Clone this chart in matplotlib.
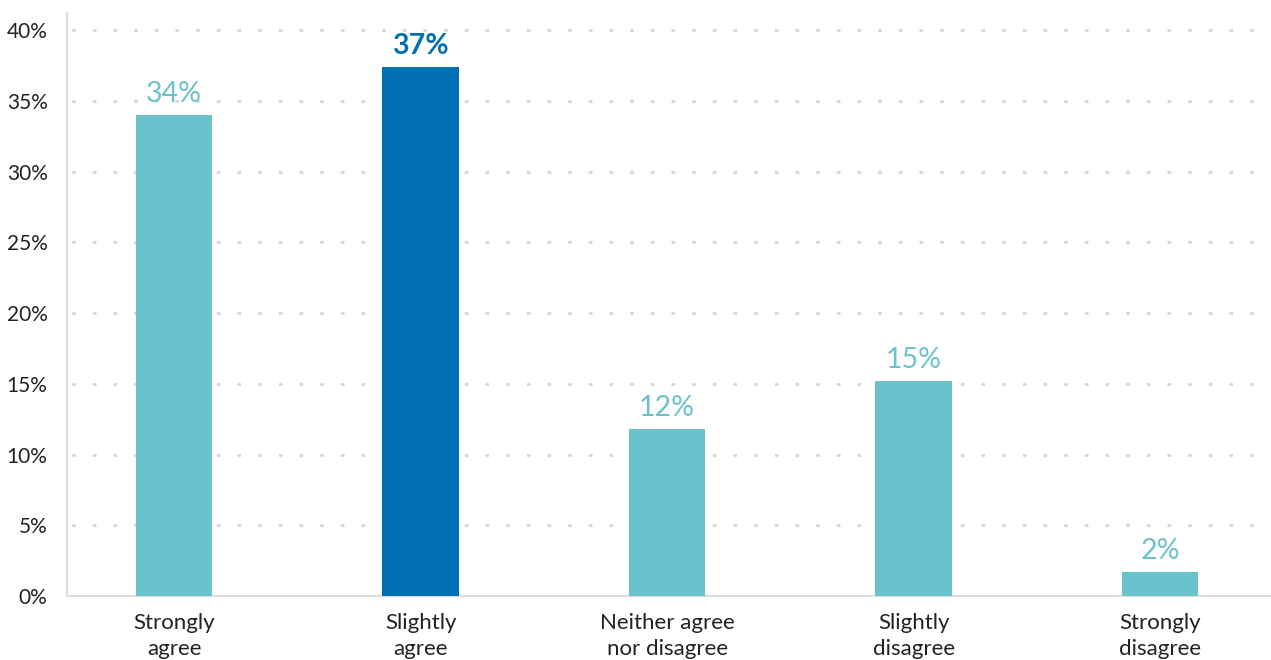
import matplotlib.pyplot as plt

# data
categories = ["Strongly\nagree", "Slightly\nagree", "Neither agree\nnor disagree",
              "Slightly\ndisagree", "Strongly\ndisagree"]
values = [34.0, 37.4, 11.8, 15.2, 1.7]
labels = ["34%", "37%", "12%", "15%", "2%"]
highlight = 1

light = "#6AC3CC"
dark = "#0070B2"

plt.rcParams['font.family'] = ['Lato', 'DejaVu Sans']

fig = plt.figure(figsize=(12.71, 6.6), dpi=100)
ax = fig.add_axes([0.0527, 0.097, 0.9473, 0.883])

x = list(range(len(categories)))
colors = [dark if i == highlight else light for i in x]
ax.bar(x, values, width=0.31, color=colors, zorder=3)

for i in x:
    bold = i == highlight
    ax.annotate(labels[i], (i, values[i]), xytext=(0, 6), textcoords="offset points",
                ha="center", va="bottom", fontsize=20.5,
                fontweight="bold" if bold else "normal",
                color=dark if bold else light)

ax.set_xlim(-0.435, 4.45)
ax.set_ylim(0, 41.2)
ax.set_yticks(range(0, 41, 5))
ax.set_yticklabels([f"{v}%" for v in range(0, 41, 5)], fontsize=15, color="#222222")
ax.set_xticks(x)
ax.set_xticklabels(categories, fontsize=16, color="#222222", linespacing=1.4)
ax.tick_params(axis="both", length=0)
ax.tick_params(axis="x", pad=12)
ax.tick_params(axis="y", pad=14)

for y in range(5, 41, 5):
    ax.axhline(y, xmin=0.005, color="#D9D9D9", linewidth=2.4,
               dashes=(0.3, 5.9), dash_capstyle="round", zorder=1)

for s in ["top", "right"]:
    ax.spines[s].set_visible(False)
for s in ["left", "bottom"]:
    ax.spines[s].set_color("#DDDDDD")
    ax.spines[s].set_linewidth(1.5)

fig.savefig("out.png", dpi=100)
